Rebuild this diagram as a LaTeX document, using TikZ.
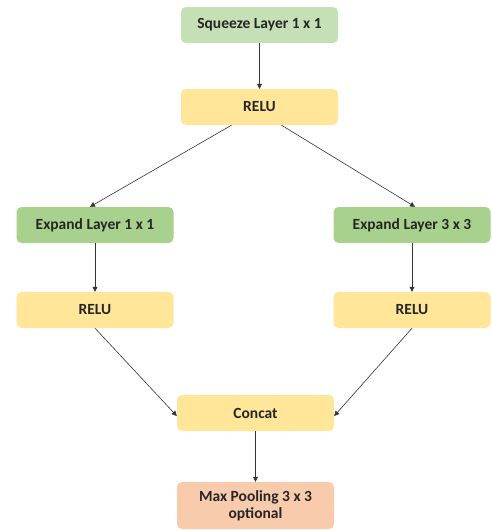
\documentclass[tikz,border=0pt]{standalone}
\usepackage{fontspec}
\setmainfont{Carlito}
\usetikzlibrary{arrows.meta}
\definecolor{sqzgreen}{HTML}{C5E0B4}
\definecolor{expgreen}{HTML}{A9D18E}
\definecolor{reluyellow}{HTML}{FFE699}
\definecolor{poolpeach}{HTML}{F8CBAD}
\begin{document}
\begin{tikzpicture}[x=1pt,y=-1pt,font=\fontsize{15.5}{17}\selectfont\bfseries,
 layer/.style={rounded corners=5pt,minimum width=157pt,minimum height=36pt,
 inner sep=2pt,align=center,text=black!85},
 arr/.style={-{Triangle[length=5pt,width=5pt]},black!80,line width=0.6pt}]
 \useasboundingbox (0,0) rectangle (491,531);
 \node[layer,fill=sqzgreen] (sqz) at (259.5,25) {Squeeze Layer 1 x 1};
 \node[layer,fill=reluyellow] (relu) at (259.5,107) {RELU};
 \node[layer,fill=expgreen] (expA) at (95,225) {Expand Layer 1 x 1};
 \node[layer,fill=expgreen] (expB) at (412,225) {Expand Layer 3 x 3};
 \node[layer,fill=reluyellow] (reluA) at (95,310) {RELU};
 \node[layer,fill=reluyellow] (reluB) at (412,310) {RELU};
 \node[layer,fill=reluyellow] (cat) at (255.5,413) {Concat};
 \node[layer,fill=poolpeach,minimum height=47pt] (pool) at (255.5,505.5) {Max Pooling 3 x 3\\optional};
 % connectors
 \draw[arr] (sqz.south) -- (relu.north);
 \draw[arr] ([xshift=-28pt]relu.south) -- ([xshift=-5pt]expA.north);
 \draw[arr] ([xshift=22pt]relu.south) -- ([xshift=3pt]expB.north);
 \draw[arr] (expA.south) -- (reluA.north);
 \draw[arr] (expB.south) -- (reluB.north);
 \draw[arr] (reluA.south) -- ([yshift=-3pt]cat.west);
 \draw[arr] (reluB.south) -- ([yshift=-3pt]cat.east);
 \draw[arr] (cat.south) -- (pool.north);
\end{tikzpicture}
\end{document}
